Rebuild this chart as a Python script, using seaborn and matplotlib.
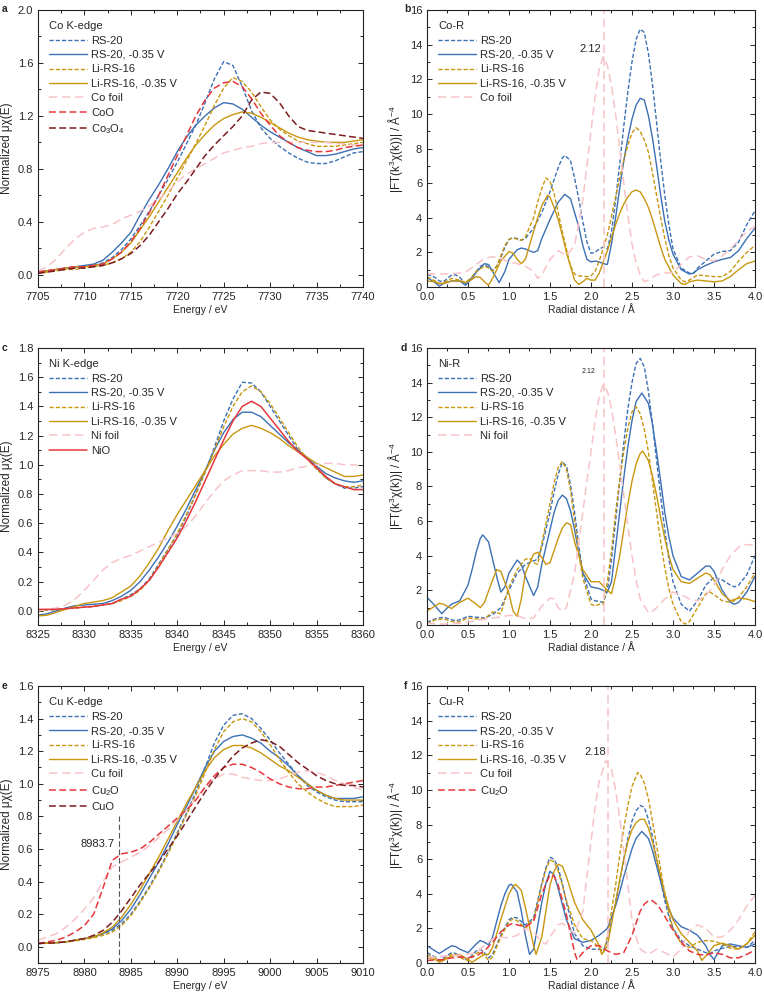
import numpy as np
import matplotlib
matplotlib.use('Agg')
import matplotlib.pyplot as plt
from matplotlib.ticker import MultipleLocator, AutoMinorLocator
import seaborn as sns

# ---------------- XANES data (a, c, e) ----------------
co_e = list(range(7705, 7741))
co_rs20 = [0.02, 0.03, 0.04, 0.05, 0.06, 0.06, 0.07, 0.09, 0.13, 0.19, 0.27, 0.37, 0.48, 0.60, 0.72, 0.85, 0.99, 1.13,
           1.30, 1.48, 1.61, 1.58, 1.42, 1.24, 1.11, 1.03, 0.97, 0.92, 0.88, 0.85, 0.84, 0.84, 0.86, 0.89, 0.92, 0.93]
co_rs20_v = [0.02, 0.03, 0.04, 0.05, 0.06, 0.07, 0.08, 0.11, 0.17, 0.24, 0.32, 0.45, 0.57, 0.68, 0.80, 0.93, 1.04, 1.13,
             1.20, 1.26, 1.30, 1.29, 1.25, 1.19, 1.13, 1.08, 1.04, 1.00, 0.96, 0.93, 0.90, 0.90, 0.91, 0.93, 0.95, 0.96]
co_li16 = [0.01, 0.02, 0.03, 0.04, 0.04, 0.05, 0.06, 0.07, 0.09, 0.12, 0.17, 0.25, 0.36, 0.48, 0.60, 0.73, 0.86, 0.99,
           1.13, 1.28, 1.41, 1.49, 1.46, 1.38, 1.27, 1.17, 1.10, 1.05, 1.01, 0.99, 0.97, 0.97, 0.97, 0.98, 0.99, 1.00]
co_li16_v = [0.02, 0.03, 0.04, 0.05, 0.06, 0.06, 0.07, 0.08, 0.12, 0.17, 0.24, 0.34, 0.44, 0.55, 0.66, 0.77, 0.88, 0.98,
             1.06, 1.13, 1.18, 1.21, 1.23, 1.22, 1.19, 1.15, 1.11, 1.07, 1.04, 1.02, 1.01, 1.00, 1.00, 1.00, 1.01, 1.02]
co_foil = [0.03, 0.06, 0.12, 0.20, 0.27, 0.32, 0.35, 0.36, 0.38, 0.42, 0.45, 0.48, 0.52, 0.57, 0.63, 0.70, 0.76, 0.80,
           0.84, 0.88, 0.92, 0.94, 0.96, 0.97, 0.99, 1.00, 1.00, 1.00, 1.00, 1.00, 1.00, 1.00, 0.99, 0.99, 0.98, 0.98]
co_coo = [0.02, 0.03, 0.04, 0.05, 0.06, 0.06, 0.07, 0.08, 0.12, 0.17, 0.25, 0.35, 0.47, 0.60, 0.75, 0.90, 1.05, 1.20,
          1.32, 1.41, 1.45, 1.46, 1.42, 1.33, 1.22, 1.13, 1.05, 1.00, 0.96, 0.94, 0.93, 0.93, 0.94, 0.96, 0.97, 0.98]
co_co3o4 = [0.01, 0.02, 0.03, 0.04, 0.05, 0.05, 0.06, 0.07, 0.09, 0.12, 0.16, 0.22, 0.30, 0.40, 0.50, 0.61, 0.70, 0.80,
            0.90, 0.98, 1.05, 1.12, 1.20, 1.32, 1.38, 1.37, 1.30, 1.20, 1.12, 1.09, 1.08, 1.07, 1.06, 1.05, 1.04, 1.03]

ni_e = list(range(8325, 8361))
ni_rs20 = [0.0, 0.005, 0.01, 0.015, 0.02, 0.025, 0.03, 0.04, 0.05, 0.08, 0.11, 0.15, 0.22, 0.32, 0.42, 0.52, 0.65, 0.80,
           0.95, 1.12, 1.30, 1.45, 1.565, 1.56, 1.50, 1.40, 1.30, 1.20, 1.10, 1.04, 0.98, 0.91, 0.87, 0.84, 0.84, 0.85]
ni_rs20_v = [-0.03, -0.02, 0.0, 0.02, 0.035, 0.04, 0.045, 0.05, 0.07, 0.10, 0.14, 0.20, 0.28, 0.37, 0.47, 0.58, 0.70,
             0.83, 0.96, 1.10, 1.22, 1.31, 1.36, 1.36, 1.33, 1.27, 1.21, 1.15, 1.10, 1.05, 0.99, 0.94, 0.91, 0.89, 0.88, 0.89]
ni_li16 = [0.0, 0.005, 0.01, 0.015, 0.02, 0.025, 0.03, 0.04, 0.05, 0.07, 0.10, 0.14, 0.21, 0.31, 0.42, 0.53, 0.66, 0.80,
           0.95, 1.10, 1.26, 1.40, 1.50, 1.54, 1.50, 1.42, 1.32, 1.22, 1.12, 1.04, 0.97, 0.91, 0.87, 0.85, 0.85, 0.86]
ni_li16_v = [-0.035, -0.03, -0.01, 0.01, 0.03, 0.05, 0.06, 0.07, 0.09, 0.13, 0.17, 0.24, 0.33, 0.43, 0.55, 0.66, 0.76,
             0.86, 0.96, 1.06, 1.14, 1.21, 1.25, 1.27, 1.25, 1.22, 1.18, 1.13, 1.09, 1.05, 1.01, 0.98, 0.95, 0.92, 0.92, 0.93]
ni_foil = [0.0, 0.01, 0.02, 0.04, 0.08, 0.14, 0.21, 0.28, 0.33, 0.36, 0.38, 0.41, 0.44, 0.47, 0.50, 0.53, 0.58, 0.65,
           0.74, 0.82, 0.89, 0.93, 0.96, 0.96, 0.96, 0.95, 0.95, 0.96, 0.98, 0.99, 1.00, 1.01, 1.01, 1.00, 1.00, 0.99]
ni_nio = [0.01, 0.01, 0.01, 0.015, 0.02, 0.025, 0.03, 0.04, 0.05, 0.08, 0.10, 0.15, 0.21, 0.30, 0.40, 0.50, 0.62, 0.75,
          0.89, 1.03, 1.17, 1.30, 1.40, 1.435, 1.40, 1.32, 1.24, 1.16, 1.09, 1.04, 0.98, 0.92, 0.87, 0.85, 0.83, 0.83]

cu_e = list(range(8975, 9011))
cu_rs20 = [0.02, 0.022, 0.025, 0.03, 0.04, 0.05, 0.06, 0.08, 0.10, 0.14, 0.20, 0.28, 0.37, 0.47, 0.58, 0.70, 0.82, 0.95,
           1.10, 1.25, 1.36, 1.42, 1.43, 1.40, 1.34, 1.27, 1.19, 1.12, 1.05, 0.99, 0.95, 0.92, 0.90, 0.89, 0.89, 0.89]
cu_rs20_v = [0.02, 0.022, 0.025, 0.03, 0.04, 0.05, 0.06, 0.08, 0.11, 0.16, 0.23, 0.32, 0.42, 0.52, 0.63, 0.75, 0.86,
             0.98, 1.10, 1.20, 1.26, 1.29, 1.30, 1.28, 1.25, 1.20, 1.16, 1.11, 1.05, 1.00, 0.96, 0.93, 0.91, 0.91, 0.91, 0.92]
cu_li16 = [0.02, 0.022, 0.025, 0.03, 0.035, 0.045, 0.055, 0.07, 0.09, 0.13, 0.19, 0.27, 0.36, 0.46, 0.57, 0.69, 0.81,
           0.93, 1.07, 1.21, 1.32, 1.38, 1.40, 1.38, 1.32, 1.24, 1.15, 1.07, 1.00, 0.95, 0.91, 0.88, 0.86, 0.86, 0.86, 0.87]
cu_li16_v = [0.02, 0.022, 0.025, 0.03, 0.04, 0.05, 0.06, 0.085, 0.12, 0.18, 0.26, 0.35, 0.45, 0.55, 0.66, 0.77, 0.88,
             0.98, 1.08, 1.16, 1.21, 1.235, 1.235, 1.22, 1.19, 1.15, 1.11, 1.08, 1.04, 1.00, 0.96, 0.93, 0.91, 0.90, 0.90, 0.90]
cu_foil = [0.04, 0.06, 0.08, 0.12, 0.17, 0.23, 0.30, 0.40, 0.49, 0.52, 0.55, 0.58, 0.62, 0.67, 0.72, 0.78, 0.84, 0.91,
           0.98, 1.03, 1.06, 1.06, 1.04, 1.03, 1.02, 1.02, 1.03, 1.05, 1.07, 1.08, 1.07, 1.05, 1.02, 1.00, 0.98, 0.96]
cu_cu2o = [0.02, 0.03, 0.04, 0.06, 0.09, 0.13, 0.20, 0.36, 0.53, 0.57, 0.58, 0.60, 0.64, 0.69, 0.74, 0.79, 0.84, 0.90,
           0.98, 1.05, 1.10, 1.12, 1.12, 1.10, 1.07, 1.03, 1.00, 0.98, 0.97, 0.97, 0.98, 0.98, 0.99, 1.00, 1.01, 1.02]
cu_cuo = [0.02, 0.022, 0.025, 0.03, 0.04, 0.05, 0.07, 0.10, 0.15, 0.22, 0.30, 0.38, 0.45, 0.52, 0.60, 0.68, 0.77, 0.86,
          0.95, 1.03, 1.10, 1.17, 1.22, 1.25, 1.27, 1.26, 1.23, 1.18, 1.13, 1.09, 1.05, 1.02, 1.00, 0.99, 0.99, 0.98]
cu_edge = 8983.7

# ---------------- EXAFS data (b, d, f) ----------------
# Co-R
co_r_rs20_x = [0.0, 0.1, 0.15, 0.2, 0.3, 0.35, 0.4, 0.47, 0.55, 0.6, 0.65, 0.7, 0.75, 0.8, 0.85, 0.9, 0.95, 1.0, 1.05,
               1.1, 1.15, 1.2, 1.3, 1.4, 1.5, 1.55, 1.6, 1.65, 1.68, 1.75, 1.8, 1.85, 1.9, 1.95, 2.0, 2.05, 2.1,
               2.15, 2.2, 2.25, 2.3, 2.35, 2.4, 2.45, 2.5, 2.55, 2.6, 2.65, 2.7, 2.75, 2.8, 2.85, 2.9, 2.95, 3.0,
               3.1, 3.2, 3.25, 3.3, 3.4, 3.5, 3.6, 3.7, 3.8, 3.9, 4.0]
co_r_rs20 = [0.75, 0.55, 0.35, 0.3, 0.7, 0.7, 0.55, 0.2, 0.55, 0.9, 1.2, 1.3, 1.15, 0.95, 1.2, 1.7, 2.3, 2.75, 2.85,
             2.8, 2.7, 2.8, 3.4, 4.3, 5.5, 6.2, 6.9, 7.45, 7.6, 7.3, 6.3, 5.1, 3.8, 2.6, 1.95, 2.0, 2.2,
             2.3, 2.2, 3.2, 5.0, 7.1, 9.3, 11.3, 13.0, 14.3, 14.9, 14.7, 13.5, 11.7, 9.5, 7.3, 5.3, 3.6, 2.2,
             1.1, 0.8, 0.8, 1.1, 1.5, 1.9, 2.05, 2.1, 2.6, 3.6, 4.4]
co_r_rs20_v_x = [0.0, 0.1, 0.15, 0.2, 0.3, 0.4, 0.47, 0.55, 0.6, 0.7, 0.75, 0.8, 0.88, 0.95, 1.0, 1.1, 1.15, 1.2, 1.3,
                 1.35, 1.4, 1.5, 1.6, 1.68, 1.75, 1.85, 1.9, 1.95, 2.0, 2.05, 2.1, 2.15, 2.2, 2.25, 2.3, 2.35, 2.4,
                 2.45, 2.5, 2.55, 2.6, 2.65, 2.7, 2.75, 2.8, 2.85, 2.9, 2.95, 3.0, 3.1, 3.2, 3.25, 3.3, 3.4, 3.5,
                 3.6, 3.7, 3.8, 3.9, 4.0]
co_r_rs20_v = [0.55, 0.25, 0.05, 0.2, 0.35, 0.35, 0.1, 0.5, 0.85, 1.35, 1.3, 0.9, 0.25, 0.9, 1.6, 2.15, 2.25, 2.2, 2.0,
               2.1, 2.8, 3.9, 4.9, 5.35, 5.1, 3.5, 2.4, 1.6, 1.45, 1.5, 1.45, 1.35, 1.3, 2.5, 4.0, 5.7, 7.3,
               8.6, 9.7, 10.5, 10.9, 10.8, 9.9, 8.6, 7.0, 5.3, 3.8, 2.7, 1.9, 1.0, 0.75, 0.8, 1.0, 1.25, 1.45,
               1.6, 1.7, 2.1, 2.8, 3.4]
co_r_li16_x = [0.0, 0.1, 0.15, 0.2, 0.3, 0.4, 0.47, 0.55, 0.6, 0.7, 0.75, 0.8, 0.85, 0.9, 0.95, 1.0, 1.05, 1.1, 1.15,
               1.2, 1.3, 1.35, 1.4, 1.45, 1.5, 1.55, 1.6, 1.65, 1.7, 1.75, 1.8, 1.85, 1.95, 2.0, 2.05, 2.1, 2.2,
               2.3, 2.35, 2.4, 2.45, 2.5, 2.55, 2.6, 2.65, 2.7, 2.75, 2.8, 2.85, 2.9, 2.95, 3.0, 3.1, 3.15, 3.2,
               3.3, 3.4, 3.5, 3.6, 3.7, 3.8, 3.9, 4.0]
co_r_li16 = [0.6, 0.35, 0.2, 0.25, 0.5, 0.4, 0.25, 0.6, 0.9, 1.2, 1.1, 0.9, 1.2, 1.8, 2.4, 2.75, 2.85, 2.75, 2.7,
             2.9, 4.0, 4.9, 5.7, 6.3, 6.1, 5.4, 4.3, 3.2, 2.2, 1.2, 0.75, 0.65, 0.6, 0.65, 0.9, 1.5, 3.0,
             5.2, 6.3, 7.3, 8.2, 8.9, 9.2, 9.0, 8.5, 7.8, 6.6, 5.3, 4.0, 2.8, 1.8, 1.1, 0.4, 0.3, 0.4,
             0.7, 0.65, 0.6, 0.6, 0.9, 1.5, 2.0, 2.4]
co_r_li16_v_x = [0.0, 0.1, 0.15, 0.2, 0.3, 0.4, 0.47, 0.55, 0.6, 0.65, 0.7, 0.75, 0.8, 0.9, 1.0, 1.05, 1.1, 1.15, 1.2,
                 1.3, 1.35, 1.4, 1.47, 1.5, 1.55, 1.6, 1.65, 1.7, 1.8, 1.85, 1.9, 1.95, 2.0, 2.05, 2.1, 2.2, 2.3,
                 2.35, 2.4, 2.45, 2.5, 2.55, 2.6, 2.65, 2.7, 2.75, 2.8, 2.85, 2.9, 3.0, 3.1, 3.15, 3.2, 3.3, 3.4,
                 3.5, 3.6, 3.7, 3.8, 3.9, 4.0]
co_r_li16_v = [0.35, 0.3, 0.2, 0.2, 0.35, 0.35, 0.25, 0.45, 0.6, 0.55, 0.3, 0.1, 0.5, 1.5, 2.05, 1.95, 1.6, 1.35, 1.6,
               3.2, 4.0, 4.7, 5.3, 5.2, 4.6, 3.9, 3.0, 2.0, 0.4, 0.15, 0.3, 0.5, 0.4, 0.4, 0.8, 2.1, 3.6,
               4.25, 4.8, 5.2, 5.5, 5.6, 5.5, 5.1, 4.6, 3.9, 3.1, 2.3, 1.6, 0.7, 0.2, 0.15, 0.3, 0.4, 0.35,
               0.3, 0.35, 0.6, 1.0, 1.35, 1.5]
co_r_foil_x = [0.0, 0.2, 0.4, 0.5, 0.6, 0.7, 0.8, 0.9, 1.0, 1.1, 1.2, 1.3, 1.35, 1.4, 1.5, 1.6, 1.7, 1.8, 1.9, 1.95,
               2.0, 2.05, 2.1, 2.15, 2.2, 2.25, 2.3, 2.35, 2.4, 2.45, 2.5, 2.55, 2.6, 2.65, 2.7, 2.8, 2.9, 3.0,
               3.1, 3.2, 3.3, 3.4, 3.5, 3.6, 3.7, 3.8, 3.9, 4.0]
co_r_foil = [0.75, 0.75, 0.8, 0.95, 1.3, 1.65, 1.75, 1.65, 1.45, 1.35, 1.2, 0.9, 0.5, 0.7, 1.6, 2.1, 1.8, 2.4, 5.0, 7.0,
             9.0, 11.0, 12.6, 13.3, 12.8, 11.6, 10.0, 8.0, 6.0, 4.1, 2.5, 1.4, 0.7, 0.3, 0.4, 0.7, 0.8, 0.85,
             1.3, 1.75, 1.8, 1.6, 1.5, 1.8, 2.2, 2.7, 3.2, 3.5]

# Ni-R
ni_r_rs20_x = [0.0, 0.1, 0.2, 0.3, 0.35, 0.4, 0.5, 0.6, 0.7, 0.8, 0.9, 1.0, 1.1, 1.2, 1.3, 1.35, 1.4, 1.5, 1.55, 1.6,
               1.65, 1.7, 1.75, 1.8, 1.85, 1.9, 2.0, 2.05, 2.15, 2.2, 2.25, 2.3, 2.35, 2.4, 2.45, 2.5, 2.55, 2.6,
               2.65, 2.7, 2.75, 2.8, 2.85, 2.9, 2.95, 3.0, 3.1, 3.2, 3.3, 3.4, 3.5, 3.6, 3.7, 3.75, 3.8, 3.9, 4.0]
ni_r_rs20 = [0.15, 0.35, 0.45, 0.3, 0.25, 0.3, 0.5, 0.45, 0.4, 0.6, 1.0, 2.0, 3.0, 3.5, 3.7, 3.8, 4.5, 6.5, 7.7, 8.7,
             9.4, 9.2, 8.1, 6.5, 4.6, 3.0, 1.5, 1.4, 1.3, 2.0, 3.8, 6.0, 8.3, 10.5, 12.5, 14.0, 15.1, 15.4,
             14.9, 13.5, 11.6, 9.5, 7.4, 5.5, 3.8, 2.5, 1.2, 0.8, 1.4, 2.3, 2.75, 2.6, 2.3, 2.2, 2.3, 2.9, 4.0]
ni_r_rs20_v_x = [0.0, 0.1, 0.18, 0.25, 0.3, 0.4, 0.5, 0.55, 0.6, 0.65, 0.68, 0.75, 0.8, 0.85, 0.9, 0.95, 1.0, 1.1,
                 1.15, 1.2, 1.3, 1.35, 1.4, 1.5, 1.55, 1.6, 1.65, 1.7, 1.75, 1.8, 1.85, 1.9, 2.0, 2.1, 2.2, 2.25,
                 2.3, 2.35, 2.4, 2.45, 2.5, 2.55, 2.62, 2.7, 2.75, 2.8, 2.85, 2.9, 2.95, 3.0, 3.1, 3.2, 3.3, 3.4,
                 3.45, 3.5, 3.6, 3.7, 3.75, 3.8, 3.9, 4.0]
ni_r_rs20_v = [1.6, 1.1, 0.65, 1.0, 1.2, 1.4, 2.3, 3.2, 4.2, 5.0, 5.2, 4.8, 3.8, 2.8, 1.9, 2.2, 3.0, 3.75,
               3.5, 2.8, 1.7, 2.2, 3.5, 5.5, 6.5, 7.2, 7.5, 7.3, 6.6, 5.5, 4.2, 3.0, 2.2, 2.1, 1.9, 2.5,
               4.5, 6.5, 8.5, 10.3, 11.8, 12.9, 13.4, 12.8, 11.6, 10.0, 8.3, 6.5, 5.1, 4.0, 2.8, 2.6, 3.0, 3.4,
               3.4, 3.1, 2.0, 1.3, 1.2, 1.3, 1.9, 2.8]
ni_r_li16_x = [0.0, 0.1, 0.2, 0.3, 0.35, 0.4, 0.5, 0.6, 0.7, 0.8, 0.85, 0.9, 1.0, 1.1, 1.2, 1.25, 1.3, 1.35, 1.4, 1.5,
               1.55, 1.6, 1.65, 1.7, 1.75, 1.8, 1.85, 1.9, 2.0, 2.05, 2.1, 2.15, 2.2, 2.25, 2.3, 2.35, 2.4, 2.45,
               2.5, 2.55, 2.6, 2.65, 2.7, 2.75, 2.8, 2.85, 2.9, 2.95, 3.0, 3.1, 3.15, 3.2, 3.3, 3.4, 3.45, 3.5,
               3.6, 3.7, 3.75, 3.8, 3.9, 4.0]
ni_r_li16 = [0.05, 0.3, 0.35, 0.2, 0.15, 0.2, 0.4, 0.35, 0.35, 0.75, 0.7, 0.65, 2.2, 3.2, 3.8, 3.85, 3.6, 3.5, 4.7, 7.0,
             8.2, 9.1, 9.45, 9.0, 7.8, 6.0, 4.2, 2.7, 1.2, 1.1, 1.2, 1.2, 2.5, 4.3, 6.5, 8.4, 10.0, 11.4,
             12.3, 12.6, 12.2, 11.3, 10.0, 8.3, 6.5, 4.8, 3.3, 2.1, 1.2, 0.2, 0.05, 0.2, 1.0, 1.8, 1.9, 1.75,
             1.4, 1.3, 1.4, 1.6, 2.2, 3.0]
ni_r_li16_v_x = [0.0, 0.1, 0.15, 0.2, 0.3, 0.4, 0.5, 0.6, 0.65, 0.7, 0.8, 0.85, 0.9, 1.0, 1.05, 1.1, 1.15, 1.2, 1.3,
                 1.35, 1.4, 1.45, 1.5, 1.6, 1.65, 1.7, 1.75, 1.8, 1.85, 1.9, 2.0, 2.1, 2.2, 2.25, 2.3, 2.35, 2.4,
                 2.45, 2.5, 2.55, 2.6, 2.63, 2.7, 2.75, 2.8, 2.85, 2.9, 2.95, 3.0, 3.1, 3.2, 3.3, 3.4, 3.45, 3.5,
                 3.6, 3.7, 3.8, 3.9, 4.0]
ni_r_li16_v = [0.8, 1.1, 1.25, 1.2, 0.95, 1.3, 1.55, 1.2, 1.0, 1.3, 2.6, 3.2, 3.1, 1.8, 0.8, 0.5, 1.5, 3.0, 4.1,
               4.2, 3.9, 3.5, 3.6, 5.0, 5.6, 5.9, 5.8, 4.8, 4.0, 3.2, 2.5, 2.5, 2.0, 1.8, 2.8, 4.0, 5.5,
               7.0, 8.3, 9.3, 9.9, 10.05, 9.5, 8.6, 7.5, 6.2, 5.0, 4.0, 3.2, 2.5, 2.4, 2.7, 3.0, 2.9, 2.6,
               1.8, 1.4, 1.55, 1.5, 1.35]
ni_r_foil_x = [0.0, 0.2, 0.4, 0.6, 0.8, 1.0, 1.1, 1.2, 1.3, 1.4, 1.5, 1.55, 1.6, 1.65, 1.7, 1.8, 1.9, 1.95, 2.0, 2.05,
               2.1, 2.15, 2.2, 2.25, 2.3, 2.35, 2.4, 2.45, 2.5, 2.55, 2.6, 2.7, 2.75, 2.8, 2.9, 3.0, 3.1, 3.2,
               3.3, 3.4, 3.5, 3.6, 3.7, 3.8, 3.9, 4.0]
ni_r_foil = [0.1, 0.05, 0.1, 0.25, 0.4, 0.55, 0.55, 0.35, 0.4, 1.1, 1.55, 1.5, 1.0, 0.8, 1.0, 3.0, 6.5, 8.3, 10.0, 11.8,
             13.2, 13.9, 13.5, 12.5, 11.0, 9.3, 7.5, 5.7, 4.0, 2.6, 1.5, 0.7, 0.8, 1.0, 1.5, 1.9, 1.75, 1.5,
             1.4, 1.7, 2.3, 3.2, 4.0, 4.5, 4.65, 4.6]

# Cu-R
cu_r_rs20_x = [0.0, 0.1, 0.15, 0.2, 0.3, 0.35, 0.45, 0.5, 0.6, 0.65, 0.7, 0.75, 0.8, 0.9, 1.0, 1.05, 1.1, 1.2, 1.3,
               1.4, 1.45, 1.5, 1.55, 1.6, 1.65, 1.7, 1.8, 1.9, 2.0, 2.1, 2.15, 2.2, 2.3, 2.35, 2.4, 2.45, 2.5,
               2.55, 2.6, 2.65, 2.7, 2.75, 2.8, 2.85, 2.9, 2.95, 3.0, 3.1, 3.2, 3.3, 3.4, 3.45, 3.5, 3.6, 3.7,
               3.8, 3.9, 4.0]
cu_r_rs20 = [0.6, 0.35, 0.15, 0.3, 0.6, 0.55, 0.25, 0.2, 0.7, 0.8, 0.6, 0.3, 0.5, 1.6, 2.5, 2.65, 2.6, 2.2, 2.6,
             4.6, 5.5, 6.1, 6.0, 5.5, 4.6, 3.5, 1.7, 1.0, 0.8, 0.8, 0.7, 1.3, 3.5, 4.7, 6.0, 7.2, 8.2,
             8.8, 9.1, 9.0, 8.3, 7.3, 6.0, 4.8, 3.6, 2.7, 2.0, 1.3, 1.0, 0.8, 0.6, 0.55, 0.7, 0.85, 0.95,
             0.95, 0.9, 1.3]
cu_r_rs20_v_x = [0.0, 0.1, 0.15, 0.2, 0.3, 0.35, 0.4, 0.5, 0.6, 0.65, 0.7, 0.75, 0.8, 0.9, 0.95, 1.0, 1.03, 1.1, 1.15,
                 1.2, 1.25, 1.3, 1.4, 1.45, 1.5, 1.55, 1.6, 1.65, 1.7, 1.8, 1.9, 2.0, 2.1, 2.2, 2.3, 2.35, 2.4,
                 2.45, 2.5, 2.55, 2.6, 2.62, 2.7, 2.75, 2.8, 2.85, 2.9, 2.95, 3.0, 3.1, 3.2, 3.3, 3.4, 3.45, 3.5,
                 3.55, 3.6, 3.7, 3.8, 3.9, 4.0]
cu_r_rs20_v = [1.0, 0.7, 0.55, 0.7, 1.0, 0.95, 0.8, 0.6, 1.1, 1.3, 1.2, 1.05, 1.5, 3.3, 4.0, 4.5, 4.55, 4.1, 3.0,
               1.6, 0.5, 0.8, 3.5, 4.6, 5.3, 5.1, 4.3, 3.4, 2.5, 1.4, 1.2, 1.3, 1.6, 2.0, 3.3, 4.1, 5.0,
               5.8, 6.6, 7.2, 7.5, 7.6, 7.2, 6.5, 5.6, 4.7, 3.8, 3.1, 2.6, 2.1, 1.9, 1.6, 1.0, 0.5, 0.2,
               0.6, 1.0, 1.1, 1.0, 0.9, 1.1]
cu_r_li16_x = [0.0, 0.1, 0.15, 0.2, 0.3, 0.35, 0.45, 0.5, 0.6, 0.65, 0.7, 0.75, 0.8, 0.9, 1.0, 1.05, 1.1, 1.2, 1.3,
               1.4, 1.45, 1.5, 1.55, 1.6, 1.65, 1.7, 1.8, 1.9, 2.0, 2.1, 2.15, 2.2, 2.3, 2.35, 2.4, 2.45, 2.5,
               2.57, 2.6, 2.65, 2.7, 2.75, 2.8, 2.85, 2.9, 2.95, 3.0, 3.1, 3.2, 3.3, 3.4, 3.5, 3.6, 3.7, 3.8,
               3.9, 4.0]
cu_r_li16 = [0.45, 0.3, 0.1, 0.2, 0.5, 0.5, 0.2, 0.15, 0.55, 0.65, 0.45, 0.15, 0.35, 1.5, 2.4, 2.55, 2.45, 2.0, 2.5,
             4.5, 5.4, 5.95, 5.85, 5.3, 4.5, 3.6, 2.2, 1.4, 1.3, 0.9, 0.6, 1.5, 4.5, 6.2, 7.8, 9.1, 10.2,
             11.0, 10.9, 10.4, 9.5, 8.2, 6.8, 5.4, 4.0, 2.9, 2.0, 1.1, 0.9, 1.2, 1.3, 1.25, 1.1, 0.85, 0.8,
             1.1, 1.8]
cu_r_li16_v_x = [0.0, 0.1, 0.15, 0.2, 0.3, 0.4, 0.5, 0.55, 0.6, 0.7, 0.75, 0.8, 0.9, 1.0, 1.05, 1.08, 1.15, 1.2, 1.3,
                 1.33, 1.4, 1.5, 1.55, 1.6, 1.65, 1.7, 1.8, 1.9, 2.0, 2.1, 2.13, 2.2, 2.3, 2.35, 2.4, 2.45, 2.5,
                 2.55, 2.6, 2.65, 2.7, 2.75, 2.8, 2.85, 2.9, 2.95, 3.0, 3.1, 3.2, 3.3, 3.35, 3.4, 3.5, 3.6, 3.7,
                 3.8, 3.9, 4.0]
cu_r_li16_v = [0.3, 0.2, 0.05, 0.15, 0.4, 0.5, 0.2, 0.05, 0.2, 0.5, 0.5, 0.9, 2.5, 4.0, 4.4, 4.55, 4.2, 3.2, 1.0,
               0.5, 1.5, 4.5, 5.3, 5.7, 5.6, 5.0, 3.5, 2.5, 1.9, 1.0, 0.5, 1.0, 3.5, 4.8, 6.0, 7.0, 7.7,
               8.1, 8.3, 8.3, 7.8, 7.0, 6.0, 5.0, 4.0, 3.2, 2.5, 1.7, 1.2, 0.7, 0.15, 0.4, 1.0, 1.15, 1.0,
               0.8, 1.1, 1.6]
cu_r_foil_x = [0.0, 0.2, 0.4, 0.6, 0.7, 0.8, 0.9, 1.0, 1.1, 1.2, 1.3, 1.4, 1.45, 1.5, 1.6, 1.65, 1.7, 1.8, 1.9, 1.95,
               2.0, 2.05, 2.1, 2.18, 2.25, 2.3, 2.35, 2.4, 2.45, 2.5, 2.55, 2.6, 2.7, 2.8, 2.9, 3.0, 3.1, 3.2,
               3.3, 3.4, 3.5, 3.6, 3.7, 3.8, 3.9, 4.0]
cu_r_foil = [0.3, 0.4, 0.45, 0.6, 1.0, 1.4, 1.5, 1.45, 1.6, 2.0, 1.8, 1.2, 1.1, 1.5, 2.2, 2.3, 2.1, 1.7, 3.0, 5.0,
             7.0, 9.0, 10.5, 11.7, 11.2, 10.0, 8.4, 6.5, 4.5, 2.5, 1.5, 0.8, 0.5, 0.8, 0.6, 0.35, 0.8, 1.9,
             2.2, 2.0, 1.5, 1.5, 1.9, 2.5, 3.3, 3.9]
cu_r_cu2o_x = [0.0, 0.2, 0.3, 0.4, 0.5, 0.6, 0.7, 0.8, 0.9, 1.0, 1.05, 1.1, 1.2, 1.3, 1.4, 1.5, 1.55, 1.6, 1.7, 1.8,
               1.83, 1.9, 2.0, 2.1, 2.2, 2.3, 2.4, 2.5, 2.55, 2.6, 2.65, 2.7, 2.75, 2.8, 2.85, 2.9, 2.95, 3.0,
               3.1, 3.2, 3.3, 3.4, 3.5, 3.6, 3.7, 3.8, 3.9, 4.0]
cu_r_cu2o = [0.15, 0.2, 0.3, 0.35, 0.3, 0.4, 0.7, 1.2, 1.8, 2.2, 2.3, 2.2, 2.1, 2.4, 4.0, 5.1, 5.0, 4.5, 2.8, 0.6,
             0.2, 0.6, 1.0, 1.0, 0.7, 0.5, 0.6, 1.6, 2.3, 3.0, 3.4, 3.6, 3.6, 3.4, 3.1, 2.7, 2.3, 1.9,
             1.2, 0.7, 0.5, 0.45, 0.6, 0.5, 0.3, 0.3, 0.5, 0.75]

# ---------------- style ----------------
sns.set_style('ticks')
plt.rcParams['font.family'] = ['Liberation Sans', 'DejaVu Sans']
plt.rcParams['mathtext.fontset'] = 'custom'
plt.rcParams['mathtext.rm'] = 'Liberation Sans'
plt.rcParams['mathtext.default'] = 'regular'
plt.rcParams['axes.linewidth'] = 0.8
plt.rcParams['axes.edgecolor'] = '#222222'

BLUE = '#3c70b4'
GOLD = '#c8960f'
PINK = '#f7c3c7'
RED = '#e6373c'
DARK = '#7b1d20'
SHORT = (0, (3, 1.5))
LONG = (0, (5.5, 3))
MID = (0, (4.5, 2.2))
FS = 8

fig = plt.figure(figsize=(7.64, 9.99), dpi=100)
col_l = [0.0497, 0.4254]
col_r = [0.5589, 0.4293]
rows = [0.7127, 0.3744, 0.0360]
h = 0.2773

ax_a = fig.add_axes([col_l[0], rows[0], col_l[1], h])
ax_b = fig.add_axes([col_r[0], rows[0], col_r[1], h])
ax_c = fig.add_axes([col_l[0], rows[1], col_l[1], h])
ax_d = fig.add_axes([col_r[0], rows[1], col_r[1], h])
ax_e = fig.add_axes([col_l[0], rows[2], col_l[1], h])
ax_f = fig.add_axes([col_r[0], rows[2], col_r[1], h])


def curve(ax, x, y, label, color, ls='-', lw=1.0):
    sns.lineplot(x=x, y=y, ax=ax, color=color, linestyle=ls, linewidth=lw, label=label,
                 estimator=None, sort=False, errorbar=None)


def sample_curves(ax, xs, ys):
    curve(ax, xs[0], ys[0], 'RS-20', BLUE, SHORT)
    curve(ax, xs[1], ys[1], 'RS-20, -0.35 V', BLUE)
    curve(ax, xs[2], ys[2], 'Li-RS-16', GOLD, SHORT)
    curve(ax, xs[3], ys[3], 'Li-RS-16, -0.35 V', GOLD)


def finish(ax, title, xlabel, ylabel, xlim, ylim, xmaj, ymaj):
    ax.set_xlim(*xlim)
    ax.set_ylim(*ylim)
    ax.xaxis.set_major_locator(MultipleLocator(xmaj))
    ax.yaxis.set_major_locator(MultipleLocator(ymaj))
    ax.xaxis.set_minor_locator(AutoMinorLocator(2))
    ax.yaxis.set_minor_locator(AutoMinorLocator(2))
    ax.tick_params(which='both', direction='in', top=True, right=True, labelsize=FS, width=0.7)
    ax.tick_params(which='major', length=3.5)
    ax.tick_params(which='minor', length=2)
    ax.set_xlabel(xlabel, fontsize=7.5, labelpad=2)
    ax.set_ylabel(ylabel, fontsize=8.5, labelpad=3)
    ax.legend(title=title, loc='upper left', frameon=False, fontsize=FS, title_fontsize=FS,
              handlelength=3.4, handletextpad=0.4, labelspacing=0.4, alignment='left',
              borderaxespad=0.6, borderpad=0.4)


xanes_y = r'Normalized μχ(E)'
exafs_y = r'|FT(k$^{3}$χ(k))| / Å$^{-4}$'
r_x = 'Radial distance / Å'

# a: Co K-edge
sample_curves(ax_a, [co_e] * 4, [co_rs20, co_rs20_v, co_li16, co_li16_v])
curve(ax_a, co_e, co_foil, 'Co foil', PINK, LONG, 1.1)
curve(ax_a, co_e, co_coo, 'CoO', RED, MID, 1.1)
curve(ax_a, co_e, co_co3o4, r'Co$_3$O$_4$', DARK, MID, 1.1)
finish(ax_a, 'Co K-edge', 'Energy / eV', xanes_y, (7705, 7740), (-0.093, 2.0), 5, 0.4)

# b: Co-R
sample_curves(ax_b, [co_r_rs20_x, co_r_rs20_v_x, co_r_li16_x, co_r_li16_v_x],
              [co_r_rs20, co_r_rs20_v, co_r_li16, co_r_li16_v])
curve(ax_b, co_r_foil_x, co_r_foil, 'Co foil', PINK, LONG, 1.1)
ax_b.axvline(2.16, color=PINK, linestyle=LONG, linewidth=1.1)
ax_b.text(2.13, 13.75, '2.12', fontsize=FS, ha='right', va='center')
finish(ax_b, 'Co-R', r_x, exafs_y, (0, 4), (0, 16), 0.5, 2)

# c: Ni K-edge
sample_curves(ax_c, [ni_e] * 4, [ni_rs20, ni_rs20_v, ni_li16, ni_li16_v])
curve(ax_c, ni_e, ni_foil, 'Ni foil', PINK, LONG, 1.1)
curve(ax_c, ni_e, ni_nio, 'NiO', RED, '-', 1.1)
finish(ax_c, 'Ni K-edge', 'Energy / eV', xanes_y, (8325, 8360), (-0.097, 1.8), 5, 0.2)

# d: Ni-R
sample_curves(ax_d, [ni_r_rs20_x, ni_r_rs20_v_x, ni_r_li16_x, ni_r_li16_v_x],
              [ni_r_rs20, ni_r_rs20_v, ni_r_li16, ni_r_li16_v])
curve(ax_d, ni_r_foil_x, ni_r_foil, 'Ni foil', PINK, LONG, 1.1)
ax_d.axvline(2.16, color=PINK, linestyle=LONG, linewidth=1.1)
ax_d.text(2.05, 14.65, '2.12', fontsize=5, ha='right', va='center')
finish(ax_d, 'Ni-R', r_x, exafs_y, (0, 4), (0, 16), 0.5, 2)

# e: Cu K-edge
sample_curves(ax_e, [cu_e] * 4, [cu_rs20, cu_rs20_v, cu_li16, cu_li16_v])
curve(ax_e, cu_e, cu_foil, 'Cu foil', PINK, LONG, 1.1)
curve(ax_e, cu_e, cu_cu2o, r'Cu$_2$O', RED, MID, 1.1)
curve(ax_e, cu_e, cu_cuo, 'CuO', DARK, MID, 1.1)
ax_e.vlines(cu_edge, -0.1, 0.8, color='#555555', linestyle=(0, (5, 2.5)), linewidth=0.8)
ax_e.text(cu_edge - 0.5, 0.63, f'{cu_edge}', fontsize=FS, ha='right', va='center')
finish(ax_e, 'Cu K-edge', 'Energy / eV', xanes_y, (8975, 9010), (-0.1, 1.6), 5, 0.2)

# f: Cu-R
sample_curves(ax_f, [cu_r_rs20_x, cu_r_rs20_v_x, cu_r_li16_x, cu_r_li16_v_x],
              [cu_r_rs20, cu_r_rs20_v, cu_r_li16, cu_r_li16_v])
curve(ax_f, cu_r_foil_x, cu_r_foil, 'Cu foil', PINK, LONG, 1.1)
curve(ax_f, cu_r_cu2o_x, cu_r_cu2o, r'Cu$_2$O', RED, MID, 1.1)
ax_f.axvline(2.21, color=PINK, linestyle=LONG, linewidth=1.1)
ax_f.text(2.18, 12.17, '2.18', fontsize=FS, ha='right', va='center')
finish(ax_f, 'Cu-R', r_x, exafs_y, (0, 4), (0, 16), 0.5, 2)

# panel letters
for letter, (px, py) in zip('abcdef', [(2, 4), (404, 4), (2, 343), (401, 343), (2, 681), (404, 681)]):
    fig.text(px / 764, 1 - py / 999, letter, fontsize=7.5, fontweight='bold', va='top', ha='left')

fig.savefig('out.png', dpi=100)
